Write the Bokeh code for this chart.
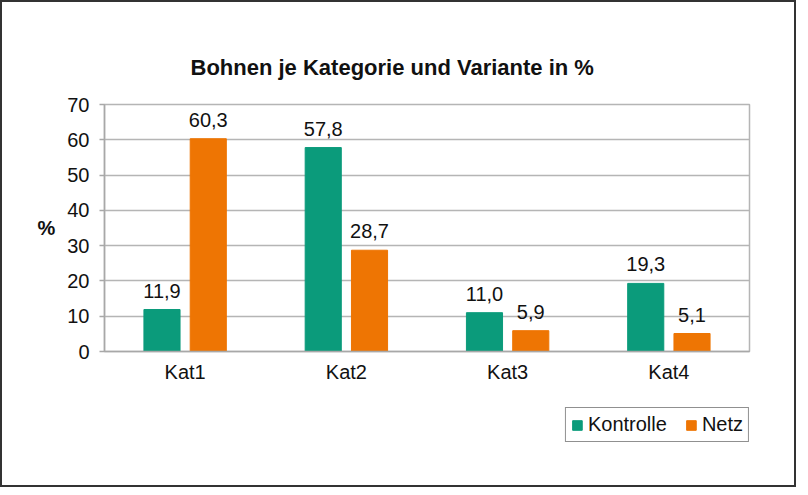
from bokeh.plotting import figure
from bokeh.layouts import column
from bokeh.models import (ColumnDataSource, FactorRange, Range1d, LabelSet,
                          Legend, LegendItem, FixedTicker)
from bokeh.core.properties import value
from bokeh.transform import dodge
from bokeh.embed import file_html
from bokeh.resources import INLINE

categories = ["Kat1", "Kat2", "Kat3", "Kat4"]
kontrolle = [11.9, 57.8, 11.0, 19.3]
netz = [60.3, 28.7, 5.9, 5.1]
series_names = ["Kontrolle", "Netz"]
y_ticks = [0, 10, 20, 30, 40, 50, 60, 70]
title_text = "Bohnen je Kategorie und Variante in %"

GREEN = "#0b9b7b"
ORANGE = "#ee7503"
FONT = "Liberation Sans"
TXT = "#111111"

def fmt(v):
    return f"{v:.1f}".replace(".", ",")

src = ColumnDataSource(dict(
    cat=categories,
    k=kontrolle,
    n=netz,
    kl=[fmt(v) for v in kontrolle],
    nl=[fmt(v) for v in netz],
))

p = figure(width=792, height=390, output_backend="svg", toolbar_location=None,
           x_range=FactorRange(*categories, range_padding=0, factor_padding=0),
           y_range=Range1d(0, 70),
           min_border_left=102, min_border_right=45, min_border_top=102,
           min_border_bottom=41)

r1 = p.vbar(x=dodge("cat", -0.1435, range=p.x_range), top="k", width=0.224,
            source=src, fill_color=GREEN, line_color=GREEN)
r2 = p.vbar(x=dodge("cat", 0.1435, range=p.x_range), top="n", width=0.224,
            source=src, fill_color=ORANGE, line_color=ORANGE)

for col, lab, off in (("k", "kl", -0.1435), ("n", "nl", 0.1435)):
    ls = LabelSet(x=dodge("cat", off, range=p.x_range), y=col, text=lab, source=src,
                  text_align="center", text_baseline="alphabetic", y_offset=12,
                  text_font=value(FONT), text_font_size="20px", text_color=TXT)
    p.add_layout(ls)

p.title.text = title_text
p.title.align = "left"
p.title.offset = 86
p.title.standoff = 50
p.title.text_font = FONT
p.title.text_font_size = "22px"
p.title.text_font_style = "bold"
p.title.text_color = TXT

p.yaxis.axis_label = "%"
p.yaxis.axis_label_orientation = "horizontal"
p.yaxis.axis_label_text_font = FONT
p.yaxis.axis_label_text_font_size = "20px"
p.yaxis.axis_label_text_font_style = "bold"
p.yaxis.axis_label_text_color = TXT
p.yaxis.axis_label_standoff = 9

p.yaxis.ticker = FixedTicker(ticks=y_ticks)
p.yaxis.major_label_text_font = FONT
p.yaxis.major_label_text_font_size = "20px"
p.yaxis.major_label_text_color = TXT
p.yaxis.axis_line_color = "#a8a8a8"
p.yaxis.axis_line_width = 1.5
p.yaxis.major_tick_line_color = "#a8a8a8"
p.yaxis.major_tick_line_width = 1.5
p.yaxis.major_tick_out = 5
p.yaxis.major_tick_in = 0
p.yaxis.minor_tick_line_color = None
p.yaxis.major_label_standoff = 10

p.xaxis.major_label_text_font = FONT
p.xaxis.major_label_text_font_size = "20px"
p.xaxis.major_label_text_color = TXT
p.xaxis.axis_line_color = "#a8a8a8"
p.xaxis.axis_line_width = 1.5
p.xaxis.major_tick_line_color = None
p.xaxis.minor_tick_line_color = None
p.xaxis.major_label_standoff = 3

p.xgrid.grid_line_color = None
p.ygrid.grid_line_color = "#b5b5b5"
p.ygrid.grid_line_width = 1.4
p.outline_line_color = "#b5b5b5"
p.outline_line_width = 1.5

# legend strip below the chart (dummy renderers outside the visible range)
p2 = figure(width=792, height=93, output_backend="svg", toolbar_location=None,
            x_range=Range1d(0, 1), y_range=Range1d(0, 1), min_border=0,
            min_border_top=15)
p2.axis.visible = False
p2.grid.grid_line_color = None
p2.outline_line_color = None
dummy = ColumnDataSource(dict(x=[-5], top=[-5]))
g1 = p2.vbar(x="x", top="top", width=0.1, source=dummy, fill_color=GREEN, line_color=GREEN)
g2 = p2.vbar(x="x", top="top", width=0.1, source=dummy, fill_color=ORANGE, line_color=ORANGE)

legend = Legend(items=[LegendItem(label=series_names[0], renderers=[g1]),
                       LegendItem(label=series_names[1], renderers=[g2])],
                orientation="horizontal", location="top_right",
                label_text_font=FONT, label_text_font_size="20px",
                label_text_color=TXT, label_height=18,
                glyph_width=12, glyph_height=12, label_standoff=5, spacing=18,
                padding=5, margin=0, border_line_color="#222222",
                border_line_width=1.2, background_fill_alpha=1)
p2.add_layout(legend, "center")

layout = column(p, p2, spacing=0, styles={"border": "2px solid #333333"})

open("out.html", "w").write(file_html(layout, INLINE))
